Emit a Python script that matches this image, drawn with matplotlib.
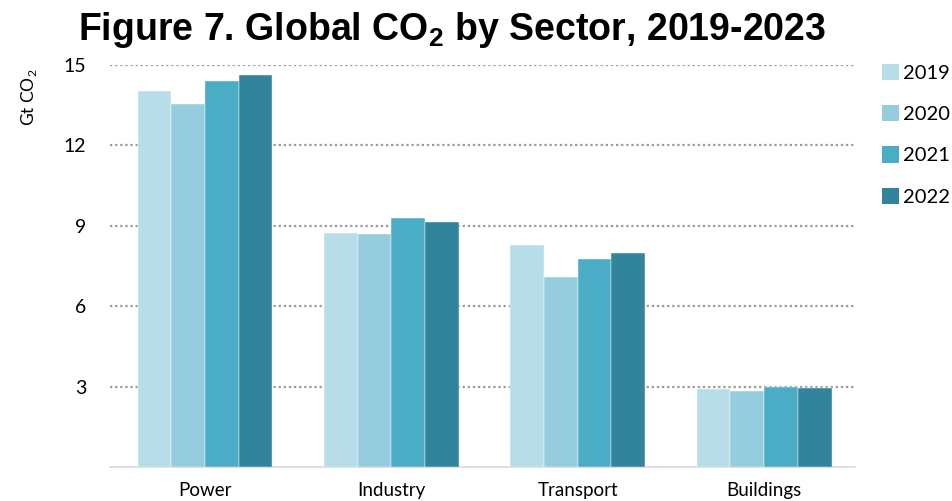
import numpy as np
import matplotlib.pyplot as plt
from matplotlib.patches import Patch

sectors = ["Power", "Industry", "Transport", "Buildings"]
years = ["2019", "2020", "2021", "2022"]
power = [14.05, 13.55, 14.4, 14.65]
industry = [8.75, 8.7, 9.3, 9.15]
transport = [8.3, 7.1, 7.75, 8.0]
buildings = [2.9, 2.85, 2.97, 2.95]
colors = ["#B7DDE8", "#96CDDE", "#4BACC6", "#31849B"]

plt.rcParams['font.family'] = ['Lato', 'DejaVu Sans']

values = np.array([power, industry, transport, buildings])  # sector x year
x = np.arange(len(sectors))
width = 0.181

fig = plt.figure(figsize=(9.52, 5.01), dpi=100)
ax = fig.add_axes([0.1155, 0.068, 0.783, 0.802])

for j, yr in enumerate(years):
    ax.bar(x + (j - 1.5) * width, values[:, j], width, color=colors[j],
           zorder=3, edgecolor="white", linewidth=0.3)

ax.set_xlim(-0.51, 3.49)
ax.set_ylim(0, 15)
ax.set_yticks([3, 6, 9, 12, 15])
ax.yaxis.grid(True, linestyle=(0, (1, 1.3)), color="#9a9a9a", linewidth=1.6, zorder=0)
ax.set_xticks(x)
ax.set_xticklabels(sectors, fontsize=13.5)
ax.tick_params(axis="x", length=0, pad=11)
ax.tick_params(axis="y", length=0, pad=17, labelsize=14)
for s in ["top", "right", "left"]:
    ax.spines[s].set_visible(False)
ax.spines["bottom"].set_color("#d9d9d9")
ax.spines["bottom"].set_linewidth(1.2)

fig.text(0.03, 0.805, r"Gt CO$_\mathregular{2}$", rotation=90, fontsize=12.5,
         ha="center", va="center")

fig.text(0.082, 0.94, r"Figure 7. Global CO$_\mathregular{2}$ by Sector, 2019-2023",
         fontsize=27, fontweight="bold", family="Liberation Sans",
         ha="left", va="center")

handles = [Patch(facecolor=c, edgecolor="none") for c in colors]
fig.legend(handles, years, loc="upper left", bbox_to_anchor=(0.926, 0.872),
           frameon=False, fontsize=14.5, handlelength=0.85, handleheight=0.85,
           handletextpad=0.2, labelspacing=1.15, borderaxespad=0, borderpad=0)

fig.savefig("out.png", dpi=100)
